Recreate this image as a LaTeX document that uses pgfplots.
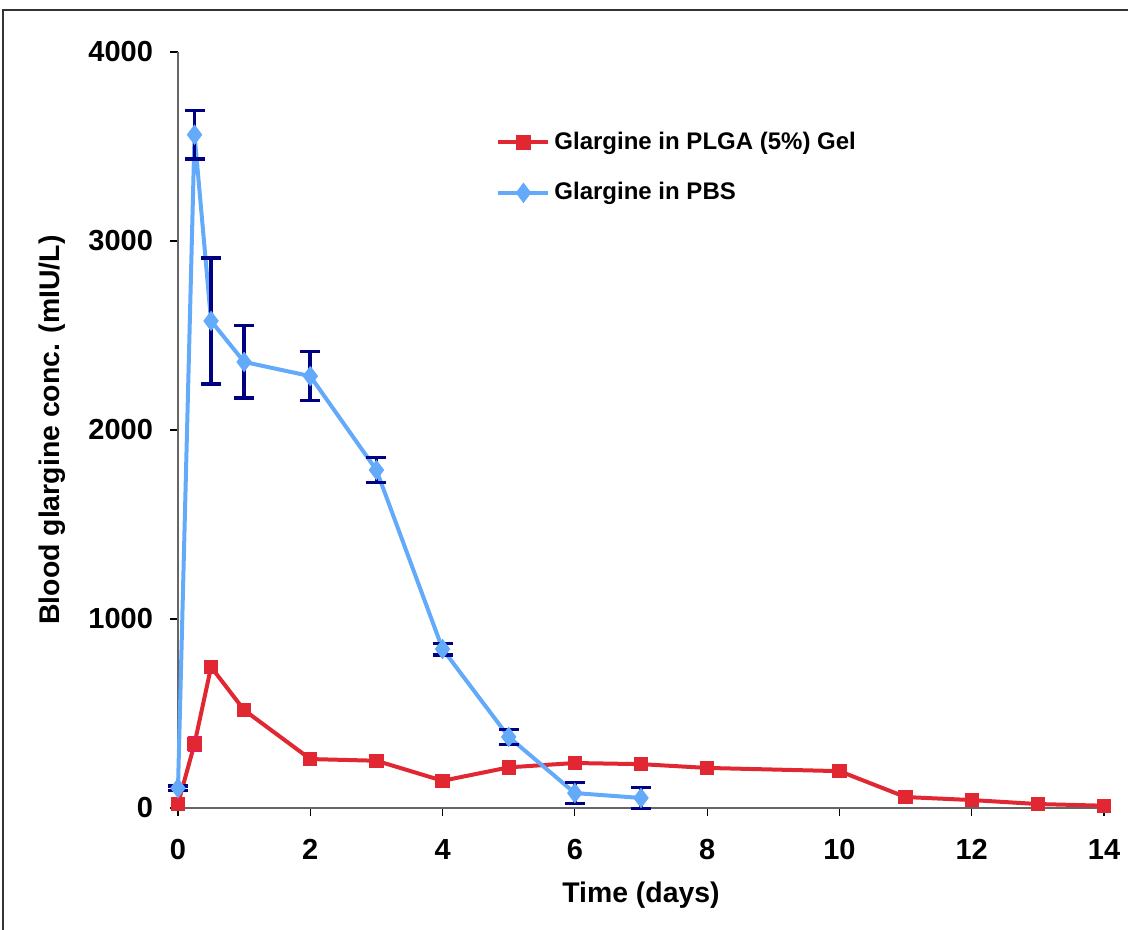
\documentclass[border=0pt]{standalone}
\usepackage{fontspec}
\setmainfont{Liberation Sans}
\usepackage{pgfplots}
\pgfplotsset{compat=1.18}
\definecolor{plgared}{RGB}{225,40,50}
\definecolor{plgaerr}{RGB}{235,20,120}
\definecolor{pbsblue}{RGB}{100,170,250}
\definecolor{pbserr}{RGB}{0,0,130}
\begin{document}
\begin{tikzpicture}[x=1pt,y=1pt]
\useasboundingbox (0,0) rectangle (564,465);
\draw[line width=0.8pt,black!80] (1.5,-20) -- (1.5,460) -- (600,460);
\begin{axis}[
  at={(89pt,61pt)}, anchor=origin,
  scale only axis, width=463pt, height=378pt,
  xmin=0, xmax=14, ymin=0, ymax=4000,
  axis lines=left, axis line style={-, gray!80!black, line width=0.8pt},
  xtick={0,2,...,14}, ytick={0,1000,...,4000},
  tick align=outside, major tick length=4pt,
  tick style={black, line width=0.6pt},
  /pgf/number format/assume math mode=true,
  /pgf/number format/set thousands separator={},
  ticklabel style={font=\bfseries\fontsize{14.5}{14.5}\selectfont},
  xticklabel style={yshift=-8pt},
  yticklabel style={xshift=-5pt},
  xlabel={Time (days)}, ylabel={Blood glargine conc. (mIU/L)},
  label style={font=\bfseries\fontsize{14.2}{14.2}\selectfont},
  xlabel style={yshift=-4.5pt},
  ylabel style={yshift=4.5pt},
  legend style={at={(0.337,0.905)}, anchor=north west, draw=none, fill=none,
    font=\bfseries\fontsize{12}{12}\selectfont, row sep=11pt,
    legend cell align=left},
  legend image code/.code={
    \draw[#1] (0pt,0pt) -- (25pt,0pt);
    \draw[#1, mark repeat=1] plot coordinates {(12.5pt,0pt)};
  },
  clip=false,
]
\addplot[plgared, line width=2pt, mark=square*, mark size=2.6pt,
  mark options={solid, fill=plgared},
  error bars/.cd, y dir=both, y explicit,
  error bar style={plgaerr, line width=1.4pt},
  error mark options={rotate=90, plgaerr, mark size=3.5pt, line width=1.6pt}]
  coordinates {
  (0,22) +- (0,20)
  (0.25,340) +- (0,35)
  (0.5,746) +- (0,15)
  (1,518) +- (0,12)
  (2,259) +- (0,12)
  (3,250) +- (0,14)
  (4,144) +- (0,20)
  (5,215) +- (0,12)
  (6,238) +- (0,12)
  (7,232) +- (0,12)
  (8,212) +- (0,15)
  (10,195) +- (0,15)
  (11,58) +- (0,25)
  (12,42) +- (0,20)
  (13,21) +- (0,10)
  (14,12) +- (0,8)
  };
\addlegendentry{Glargine in PLGA (5\%) Gel}
\addplot[pbsblue, line width=2pt, mark=diamond*, mark size=3.5pt,
  mark options={solid, fill=pbsblue},
  error bars/.cd, y dir=both, y explicit,
  error bar style={pbserr, line width=1.8pt},
  error mark options={rotate=90, pbserr, mark size=5pt, line width=1.8pt}]
  coordinates {
  (0,105) +- (0,12)
  (0.25,3562) +- (0,128)
  (0.5,2577) +- (0,333)
  (1,2360) +- (0,192)
  (2,2285) +- (0,130)
  (3,1788) +- (0,66)
  (4,841) +- (0,30)
  (5,376) +- (0,40)
  (6,79) +- (0,55)
  (7,53) +- (0,56)
  };
\addlegendentry{Glargine in PBS}
\end{axis}
\end{tikzpicture}
\end{document}
